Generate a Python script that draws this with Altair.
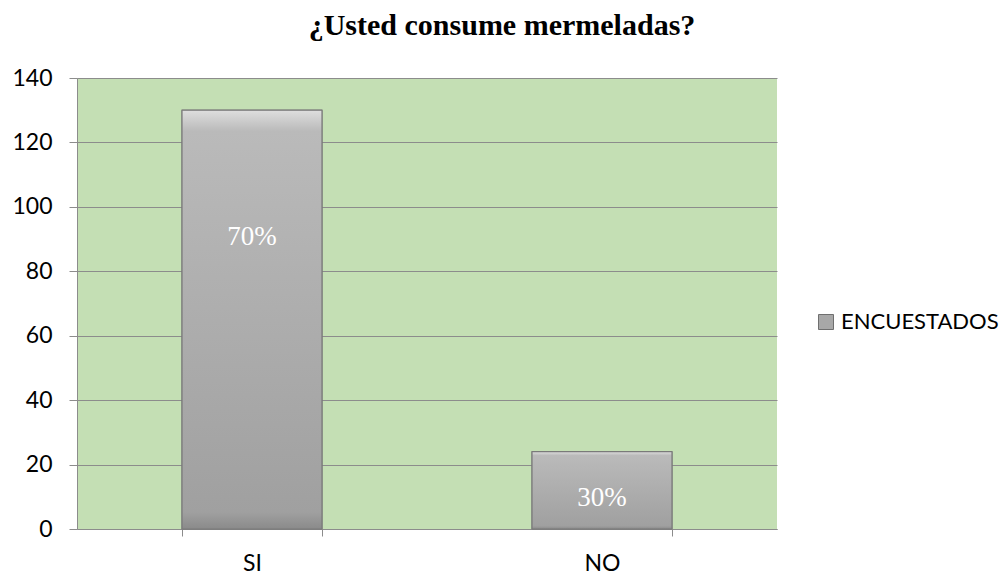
import altair as alt
import pandas as pd

categorias = ["SI", "NO"]
encuestados = [130, 24]
porcentajes = ["70%", "30%"]
serie = "ENCUESTADOS"

df = pd.DataFrame({"cat": categorias, "val": encuestados, "pct": porcentajes, "serie": [serie] * 2})

FONT = "Lato"

x_enc = alt.X("cat:N", sort=categorias, title=None,
              scale=alt.Scale(paddingInner=0.6, paddingOuter=0.3),
              axis=alt.Axis(labelAngle=0, tickBand="extent", tickSize=7, tickColor="#8c8c8c",
                            domainColor="#8c8c8c", labelPadding=16, labelFontSize=23,
                            labelFont=FONT, labelColor="#000000", grid=False))
y_enc = alt.Y("val:Q", title=None, scale=alt.Scale(domain=[0, 140]),
              axis=alt.Axis(values=[0, 20, 40, 60, 80, 100, 120, 140], tickSize=8,
                            tickColor="#8c8c8c", domainColor="#8c8c8c", gridColor="#8c8c8c",
                            gridWidth=1, labelPadding=17, labelFontSize=23, labelFont=FONT,
                            labelColor="#000000"))

base = alt.Chart(df)

legend_bars = base.mark_bar(stroke="#7a7a7a", strokeWidth=1).encode(
    x=x_enc, y=y_enc,
    color=alt.Color("serie:N", title=None,
                    scale=alt.Scale(domain=[serie], range=["#a8a8a8"]),
                    legend=alt.Legend(orient="none", legendX=738, legendY=233,
                                      symbolType="square", symbolSize=225,
                                      symbolStrokeColor="#6f6f6f", symbolStrokeWidth=1,
                                      labelFont=FONT, labelFontSize=22, labelLimit=300,
                                      labelColor="#000000", labelOffset=4)))

grad = alt.Gradient(gradient="linear", x1=0, y1=0, x2=0, y2=1, stops=[
    alt.GradientStop(color="#dedede", offset=0),
    alt.GradientStop(color="#bababa", offset=0.05),
    alt.GradientStop(color="#a0a0a0", offset=0.96),
    alt.GradientStop(color="#8a8a8a", offset=1),
])
bars = base.mark_bar(fill=grad, stroke="#7a7a7a", strokeWidth=1.2).encode(x=x_enc, y=y_enc)

lbl_si = base.transform_filter(alt.datum.cat == "SI").mark_text(
    font="Liberation Serif", fontSize=27, color="white", baseline="middle", dy=127
).encode(x=alt.X("cat:N", sort=categorias), y="val:Q", text="pct:N")
lbl_no = base.transform_filter(alt.datum.cat == "NO").mark_text(
    font="Liberation Serif", fontSize=27, color="white", baseline="middle", dy=46
).encode(x=alt.X("cat:N", sort=categorias), y="val:Q", text="pct:N")

chart = alt.layer(legend_bars, bars, lbl_si, lbl_no).properties(
    width=700, height=451,
    padding={"left": 77, "top": 78, "right": 228, "bottom": 46},
    autosize=alt.AutoSizeParams(type="none"),
    background="white",
    title=alt.TitleParams("¿Usted consume mermeladas?", font="Liberation Serif", fontSize=30,
                          fontWeight="bold", color="#000000", offset=26, dx=75),
).configure_view(fill="#c4dfb4", stroke=None)

chart.save("out.html", embed_options={"renderer": "svg", "actions": False})
